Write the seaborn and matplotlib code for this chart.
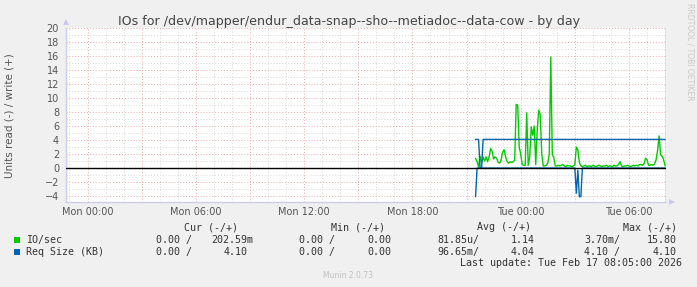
import matplotlib
matplotlib.use("Agg")
import matplotlib.pyplot as plt
import matplotlib.dates as mdates
from matplotlib.ticker import FuncFormatter, MultipleLocator
import seaborn as sns
import pandas as pd
import numpy as np

# ---------------- data ----------------
start_time = "2026-02-16 21:30"   # first sample, 5-minute steps
step_minutes = 5

io_write = [
    1.4, 0.9, 0.2, 1.7, 0.7, 1.6, 1.0, 1.6, 0.9, 1.6,
    2.8, 2.4, 1.3, 1.6, 1.4, 0.8, 0.7, 1.2, 2.3, 2.6,
    1.6, 0.9, 0.7, 0.9, 0.8, 0.9, 1.1, 9.1, 9.0, 3.0,
    2.0, 0.5, 0.4, 0.4, 7.9, 0.4, 1.6, 5.9, 4.7, 6.0,
    0.5, 5.5, 8.3, 7.6, 2.0, 0.3, 0.3, 0.4, 0.7, 2.0,
    15.9, 2.0, 1.5, 0.3, 0.3, 0.4, 0.3, 0.4, 0.5, 0.3,
    0.2, 0.4, 0.3, 0.3, 0.2, 0.3, 0.5, 3.0, 2.6, 0.8,
    0.3, 0.2, 0.3, 0.4, 0.2, 0.3, 0.3, 0.2, 0.4, 0.3,
    0.2, 0.3, 0.4, 0.3, 0.2, 0.3, 0.3, 0.4, 0.2, 0.3,
    0.3, 0.2, 0.4, 0.3, 0.3, 0.5, 0.9, 0.3, 0.2, 0.3,
    0.3, 0.4, 0.3, 0.2, 0.3, 0.4, 0.3, 0.4, 0.3, 0.5,
    0.5, 0.4, 0.6, 1.4, 1.2, 0.4, 0.4, 0.5, 0.4, 0.6,
    1.2, 2.5, 4.6, 1.9, 1.7, 1.2, 0.3,
]

req_write = [
    4.1, 4.1, 4.1, 0.0, 0.0, 4.1, 4.1, 4.1, 4.1, 4.1,
    4.1, 4.1, 4.1, 4.1, 4.1, 4.1, 4.1, 4.1, 4.1, 4.1,
    4.1, 4.1, 4.1, 4.1, 4.1, 4.1, 4.1, 4.1, 4.1, 4.1,
    4.1, 4.1, 4.1, 4.1, 4.1, 4.1, 4.1, 4.1, 4.1, 4.1,
    4.1, 4.1, 4.1, 4.1, 4.1, 4.1, 4.1, 4.1, 4.1, 4.1,
    4.1, 4.1, 4.1, 4.1, 4.1, 4.1, 4.1, 4.1, 4.1, 4.1,
    4.1, 4.1, 4.1, 4.1, 4.1, 4.1, 4.1, 4.1, 4.1, 4.1,
    4.1, 4.1, 4.1, 4.1, 4.1, 4.1, 4.1, 4.1, 4.1, 4.1,
    4.1, 4.1, 4.1, 4.1, 4.1, 4.1, 4.1, 4.1, 4.1, 4.1,
    4.1, 4.1, 4.1, 4.1, 4.1, 4.1, 4.1, 4.1, 4.1, 4.1,
    4.1, 4.1, 4.1, 4.1, 4.1, 4.1, 4.1, 4.1, 4.1, 4.1,
    4.1, 4.1, 4.1, 4.1, 4.1, 4.1, 4.1, 4.1, 4.1, 4.1,
    4.1, 4.1, 4.1, 4.1, 4.1, 4.1, 4.1,
]

req_read = [
    -4.1, 0.0, 0.0, 0.0, 0.0, 0.0, 0.0, 0.0, 0.0, 0.0,
    0.0, 0.0, 0.0, 0.0, 0.0, 0.0, 0.0, 0.0, 0.0, 0.0,
    0.0, 0.0, 0.0, 0.0, 0.0, 0.0, 0.0, 0.0, 0.0, 0.0,
    0.0, 0.0, 0.0, 0.0, 0.0, 0.0, 0.0, 0.0, 0.0, 0.0,
    0.0, 0.0, 0.0, 0.0, 0.0, 0.0, 0.0, 0.0, 0.0, 0.0,
    0.0, 0.0, 0.0, 0.0, 0.0, 0.0, 0.0, 0.0, 0.0, 0.0,
    0.0, 0.0, 0.0, 0.0, 0.0, 0.0, 0.0, -3.6, -0.3, -4.1,
    -4.1, 0.0, 0.0, 0.0, 0.0, 0.0, 0.0, 0.0, 0.0, 0.0,
    0.0, 0.0, 0.0, 0.0, 0.0, 0.0, 0.0, 0.0, 0.0, 0.0,
    0.0, 0.0, 0.0, 0.0, 0.0, 0.0, 0.0, 0.0, 0.0, 0.0,
    0.0, 0.0, 0.0, 0.0, 0.0, 0.0, 0.0, 0.0, 0.0, 0.0,
    0.0, 0.0, 0.0, 0.0, 0.0, 0.0, 0.0, 0.0, 0.0, 0.0,
    0.0, 0.0, 0.0, 0.0, 0.0, 0.0, 0.0,
]

y_ticks = [-4, -2, 0, 2, 4, 6, 8, 10, 12, 14, 16, 18, 20]
x_start = "2026-02-15 22:48:30"
x_end = "2026-02-17 08:03:00"

title = "IOs for /dev/mapper/endur_data-snap--sho--metiadoc--data-cow - by day"
y_label = "Units read (-) / write (+)"
legend_headers = ["Cur (-/+)", "Min (-/+)", "Avg (-/+)", "Max (-/+)"]
legend_names = ["IO/sec", "Req Size (KB)"]
legend_values = [
    ["0.00 /", "202.59m", "0.00 /", "0.00", "81.85u/", "1.14", "3.70m/", "15.80"],
    ["0.00 /", "4.10", "0.00 /", "0.00", "96.65m/", "4.04", "4.10 /", "4.10"],
]
last_update = "Last update: Tue Feb 17 08:05:00 2026"
version = "Munin 2.0.73"
side_text = "RRDTOOL / TOBI OETIKER"

GREEN = "#00CC00"
BLUE = "#0066B3"

# ---------------- figure ----------------
sns.set_style("white")
plt.rcParams["font.family"] = ["DejaVu Sans"]

W, H = 697, 287
fig = plt.figure(figsize=(W / 100, H / 100), dpi=100)
fig.patch.set_facecolor("#F0F0F0")

def fx(x):
    return x / W

def fy(y):
    return 1 - y / H

ax_left, ax_right, ax_top, ax_bottom = 66, 666, 28.3, 202.3
ax = fig.add_axes([fx(ax_left), fy(ax_bottom), (ax_right - ax_left) / W, (ax_bottom - ax_top) / H])
ax.set_facecolor("white")

times = pd.date_range(start=start_time, periods=len(io_write), freq=f"{step_minutes}min")
df = pd.DataFrame({"time": times, "io_write": io_write, "req_write": req_write, "req_read": req_read})

sns.lineplot(data=df, x="time", y="io_write", ax=ax, color=GREEN, linewidth=1.0, zorder=3)
sns.lineplot(data=df, x="time", y="req_write", ax=ax, color=BLUE, linewidth=1.0, zorder=4)
sns.lineplot(data=df, x="time", y="req_read", ax=ax, color=BLUE, linewidth=1.0, zorder=4)
ax.axhline(0, color="black", linewidth=1.0, zorder=5)

ax.set_xlim(pd.Timestamp(x_start), pd.Timestamp(x_end))
ax.set_ylim(-4.9, 20)

# grids
ax.yaxis.set_major_locator(MultipleLocator(2))
ax.yaxis.set_minor_locator(MultipleLocator(1))
ax.set_yticks(y_ticks)
ax.xaxis.set_major_locator(mdates.HourLocator(byhour=[0, 3, 6, 9, 12, 15, 18, 21]))
ax.xaxis.set_minor_locator(mdates.HourLocator())

def xfmt(v, pos):
    d = mdates.num2date(v)
    if d.hour % 6 == 0:
        return d.strftime("%a %H:%M")
    return ""

ax.xaxis.set_major_formatter(FuncFormatter(xfmt))

ax.grid(which="minor", color="#D8D8D8", linestyle=(0, (1, 2)), linewidth=0.7, zorder=1)
ax.grid(which="major", color="#EAA8A8", linestyle=(0, (1, 2)), linewidth=0.7, zorder=1)
ax.set_axisbelow(True)

ax.tick_params(axis="both", which="major", labelsize=7, labelcolor="#555555", length=2,
               color="#E08080", pad=3)
ax.tick_params(axis="both", which="minor", length=1.5, color="#C0C0C0")
ax.tick_params(axis="x", which="major", pad=1.5)

ax.set_xlabel("")
ax.set_ylabel("")

for s in ["top", "right"]:
    ax.spines[s].set_visible(False)
for s in ["left", "bottom"]:
    ax.spines[s].set_color("#CCCCEE")
    ax.spines[s].set_linewidth(1.0)

# right gray marker line
ax.axvline(pd.Timestamp(x_end), color="#A0A0A0", linewidth=1.0, zorder=2)

# arrows on axes
ax.plot([0], [1.035], marker="^", markersize=4, color="#C8C8F0", transform=ax.transAxes,
        clip_on=False, markeredgewidth=0)
ax.plot([1.01], [0], marker=">", markersize=4, color="#C8C8F0", transform=ax.transAxes,
        clip_on=False, markeredgewidth=0)

# texts
fig.text(fx(349), fy(21), title, ha="center", va="center", fontsize=9.1, color="#444444")
fig.text(fx(10), fy(116), y_label, ha="center", va="center", rotation=90, fontsize=7.5,
         color="#555555")
fig.text(fx(690), fy(52), side_text, ha="center", va="center", rotation=-90, fontsize=5.5,
         color="#C8C8C8")

mono = "DejaVu Sans Mono"
fs = 7.2
tc = "#333333"
header_x = [184.5, 331, 477, 623]
for h, x in zip(legend_headers, header_x):
    fig.text(fx(x), fy(227.3), h, ha="left", va="center", family=mono, fontsize=fs, color=tc)

value_x = [
    [155.6, 211, 298.7, 367, 437, 511, 584.5, 647],
    [155.6, 223.6, 298.7, 367, 437, 511, 584.5, 653],
]
row_y = [240, 251.7]
colors = [GREEN, BLUE]
for name, vals, xs, yy, c in zip(legend_names, legend_values, value_x, row_y, colors):
    fig.patches.append(plt.Rectangle((fx(14), fy(yy + 3)), 6 / W, 6 / H, transform=fig.transFigure,
                                     facecolor=c, edgecolor="none"))
    fig.text(fx(26), fy(yy), name, ha="left", va="center", family=mono, fontsize=fs, color=tc)
    for v, x in zip(vals, xs):
        fig.text(fx(x), fy(yy), v, ha="left", va="center", family=mono, fontsize=fs, color=tc)

fig.text(fx(682), fy(263.3), last_update, ha="right", va="center", family=mono, fontsize=fs, color=tc)
fig.text(fx(348), fy(276), version, ha="center", va="center", fontsize=5.5, color="#C0C0C0")

fig.savefig("out.png", dpi=100, facecolor=fig.get_facecolor())
